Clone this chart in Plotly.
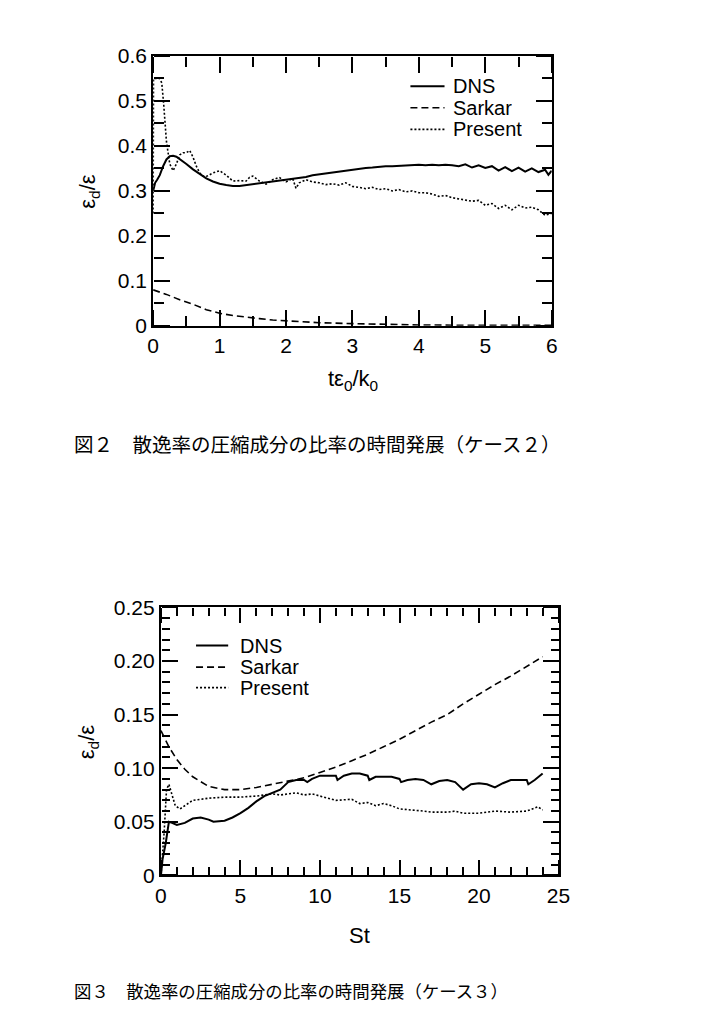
import plotly.graph_objects as go

# ---------------- Figure 2 (case 2) data ----------------
t_dns = [0, 0.03, 0.06, 0.1, 0.15, 0.2, 0.25, 0.3, 0.35, 0.4, 0.5, 0.6, 0.7, 0.8, 0.9,
         1.0, 1.1, 1.2, 1.3, 1.4, 1.5, 1.6, 1.7, 1.8, 1.9, 2.0, 2.1, 2.2, 2.3, 2.4, 2.5,
         2.6, 2.7, 2.8, 2.9, 3.0, 3.1, 3.2, 3.3, 3.4, 3.5, 3.6, 3.7, 3.8, 3.9, 4.0, 4.1,
         4.2, 4.3, 4.4, 4.5, 4.6, 4.7, 4.8, 4.9, 5.0, 5.1, 5.2, 5.3, 5.4, 5.5, 5.6, 5.7,
         5.8, 5.9, 5.95, 6.0]
dns2 = [0.300, 0.318, 0.325, 0.335, 0.355, 0.370, 0.377, 0.378, 0.376, 0.371, 0.360,
        0.348, 0.337, 0.328, 0.321, 0.316, 0.313, 0.311, 0.311, 0.313, 0.315, 0.317,
        0.318, 0.320, 0.322, 0.324, 0.326, 0.329, 0.331, 0.335, 0.337, 0.339, 0.341,
        0.343, 0.346, 0.348, 0.349, 0.351, 0.352, 0.354, 0.355, 0.355, 0.356, 0.357,
        0.357, 0.358, 0.357, 0.358, 0.357, 0.358, 0.357, 0.355, 0.359, 0.352, 0.357,
        0.351, 0.355, 0.345, 0.353, 0.344, 0.352, 0.343, 0.350, 0.342, 0.347, 0.336,
        0.345]

t_sarkar = [0, 0.2, 0.4, 0.6, 0.8, 1.0, 1.2, 1.4, 1.6, 1.8, 2.0, 2.5, 3.0, 3.5, 4.0, 5.0, 6.0]
sarkar2 = [0.080, 0.070, 0.058, 0.048, 0.036, 0.028, 0.023, 0.019, 0.016, 0.013, 0.011,
           0.007, 0.005, 0.003, 0.002, 0.001, 0.001]

t_present = [0, 0.005, 0.1, 0.13, 0.16, 0.2, 0.25, 0.3, 0.35, 0.4, 0.45, 0.5, 0.55, 0.6,
             0.65, 0.7, 0.75, 0.8, 0.9, 1.0, 1.1, 1.2, 1.3, 1.4, 1.45, 1.5, 1.6, 1.7,
             1.8, 1.9, 2.0, 2.1, 2.15, 2.2, 2.3, 2.4, 2.5, 2.6, 2.7, 2.8, 2.9, 3.0, 3.1,
             3.2, 3.3, 3.4, 3.5, 3.6, 3.7, 3.8, 3.9, 4.0, 4.1, 4.2, 4.3, 4.4, 4.5, 4.6,
             4.7, 4.8, 4.9, 5.0, 5.1, 5.2, 5.3, 5.4, 5.5, 5.6, 5.7, 5.8, 5.9, 6.0]
present2 = [0.25, 0.55, 0.55, 0.54, 0.49, 0.41, 0.36, 0.345, 0.36, 0.38, 0.385, 0.385,
            0.39, 0.375, 0.355, 0.34, 0.333, 0.332, 0.34, 0.345, 0.335, 0.322, 0.323,
            0.322, 0.33, 0.333, 0.322, 0.315, 0.325, 0.33, 0.32, 0.328, 0.306, 0.318,
            0.325, 0.32, 0.318, 0.314, 0.316, 0.313, 0.318, 0.31, 0.308, 0.305, 0.308,
            0.303, 0.305, 0.30, 0.303, 0.298, 0.30, 0.296, 0.296, 0.293, 0.288, 0.29,
            0.285, 0.282, 0.28, 0.277, 0.279, 0.268, 0.272, 0.261, 0.268, 0.258, 0.268,
            0.262, 0.264, 0.258, 0.246, 0.25]

# ---------------- Figure 3 (case 3) data ----------------
st_dns = [0, 0.1, 0.3, 0.5, 0.7, 1.0, 1.5, 2.0, 2.5, 3.0, 3.3, 4.0, 4.5, 5.0, 5.5, 6.0,
          6.5, 7.0, 7.5, 8.0, 8.5, 9.0, 9.2, 9.5, 10.0, 10.5, 11.0, 11.1, 11.5, 12.0,
          12.5, 13.0, 13.1, 13.5, 14.0, 14.5, 15.0, 15.1, 15.5, 16.0, 16.5, 17.0, 17.5,
          18.0, 18.5, 19.0, 19.5, 20.0, 20.5, 21.0, 21.5, 22.0, 22.5, 23.0, 23.1, 23.5,
          24.0]
dns3 = [0.0, 0.015, 0.03, 0.050, 0.049, 0.047, 0.049, 0.053, 0.054, 0.052, 0.050,
        0.051, 0.054, 0.058, 0.063, 0.069, 0.074, 0.077, 0.080, 0.087, 0.089, 0.089,
        0.087, 0.090, 0.093, 0.093, 0.093, 0.089, 0.093, 0.095, 0.095, 0.093, 0.089,
        0.092, 0.092, 0.092, 0.090, 0.087, 0.089, 0.090, 0.089, 0.085, 0.088, 0.089,
        0.087, 0.080, 0.085, 0.086, 0.085, 0.082, 0.086, 0.089, 0.089, 0.089, 0.085,
        0.089, 0.095]

st_sarkar = [0, 0.5, 1, 1.5, 2, 3, 4, 5, 6, 7, 8, 9, 10, 11, 12, 13, 14, 15, 16, 17, 18,
             19, 20, 21, 22, 23, 24]
sarkar3 = [0.135, 0.120, 0.108, 0.099, 0.092, 0.083, 0.080, 0.080, 0.082, 0.085, 0.088,
           0.091, 0.096, 0.101, 0.107, 0.113, 0.120, 0.127, 0.135, 0.143, 0.150, 0.160,
           0.169, 0.178, 0.186, 0.195, 0.204]

st_present = [0, 0.2, 0.35, 0.5, 0.7, 0.9, 1.2, 1.5, 2, 3, 4, 5, 6, 7, 7.5, 8.5, 9, 9.5,
              10.5, 11, 12, 12.5, 13, 13.5, 14, 14.5, 15, 16, 16.5, 17, 18, 18.5, 19, 20,
              21, 22, 23, 23.7, 24]
present3 = [0.0, 0.04, 0.08, 0.085, 0.075, 0.065, 0.062, 0.065, 0.070, 0.072, 0.073,
            0.073, 0.074, 0.076, 0.075, 0.077, 0.075, 0.076, 0.072, 0.070, 0.071, 0.067,
            0.068, 0.065, 0.067, 0.065, 0.062, 0.061, 0.060, 0.059, 0.059, 0.060, 0.058,
            0.058, 0.060, 0.059, 0.060, 0.064, 0.061]

y3_ticks = [0, 0.05, 0.10, 0.15, 0.20, 0.25]
y3_labels = ["0", "0.05", "0.10", "0.15", "0.20", "0.25"]

series_names = ["DNS", "Sarkar", "Present"]

FONT = "Liberation Sans, Arial, Helvetica, sans-serif"
CJK = "Noto Sans CJK JP"
SOLID = dict(color="black", width=2)
DASH = dict(color="black", width=1.6, dash="7px,4px")
DOT = dict(color="black", width=1.6, dash="2px,2px")
STYLES = [SOLID, DASH, DOT]

W, H = 706, 1034


def px_x(p):
    return p / W


def px_y(p):
    return 1 - p / H


fig = go.Figure()
for xs, ys, nm, st in zip([t_dns, t_sarkar, t_present], [dns2, sarkar2, present2],
                          series_names, STYLES):
    fig.add_trace(go.Scatter(x=xs, y=ys, mode="lines", line=st, name=nm,
                             xaxis="x", yaxis="y", showlegend=False))
for xs, ys, nm, st in zip([st_dns, st_sarkar, st_present], [dns3, sarkar3, present3],
                          series_names, STYLES):
    fig.add_trace(go.Scatter(x=xs, y=ys, mode="lines", line=st, name=nm,
                             xaxis="x2", yaxis="y2", showlegend=False))

dom_x1 = [px_x(151), px_x(560)]
dom_y1 = [px_y(321), px_y(45)]
dom_x2 = [px_x(159), px_x(567)]
dom_y2 = [px_y(883), px_y(609)]

base = dict(showline=True, linewidth=2, linecolor="black", showgrid=False,
            zeroline=False, ticks="", tickfont=dict(family=FONT, size=21, color="black"))

layout_axes = dict(
    xaxis=dict(domain=dom_x1, anchor="y", range=[0, 6], dtick=1, mirror=True, **base),
    yaxis=dict(domain=dom_y1, anchor="x", range=[0, 0.6], dtick=0.1, mirror=True,
               **base),
    xaxis2=dict(domain=dom_x2, anchor="y2", range=[0, 25], dtick=5, mirror=True, **base),
    yaxis2=dict(domain=dom_y2, anchor="x2", range=[0, 0.25], tickmode="array",
                tickvals=y3_ticks, ticktext=y3_labels, mirror=True, **base),
)

# Tick-only axes: each one sits on an edge of a panel, with its "outside" ticks
# pointing into the plotting area (inward ticks like the reference).
tick_specs = [
    # (kind, main axis, other main axis, range, dtick, length, position, side)
    ("x", "x", "y", [0, 6], 1, 16, dom_y1[0], "top"),
    ("x", "x", "y", [0, 6], 0.5, 10, dom_y1[0], "top"),
    ("x", "x", "y", [0, 6], 1, 16, dom_y1[1], "bottom"),
    ("x", "x", "y", [0, 6], 0.5, 10, dom_y1[1], "bottom"),
    ("y", "y", "x", [0, 0.6], 0.1, 16, dom_x1[0], "right"),
    ("y", "y", "x", [0, 0.6], 0.05, 10, dom_x1[0], "right"),
    ("y", "y", "x", [0, 0.6], 0.1, 16, dom_x1[1], "left"),
    ("y", "y", "x", [0, 0.6], 0.05, 10, dom_x1[1], "left"),
    ("x", "x2", "y2", [0, 25], 5, 15, dom_y2[0], "top"),
    ("x", "x2", "y2", [0, 25], 1, 8, dom_y2[0], "top"),
    ("x", "x2", "y2", [0, 25], 5, 15, dom_y2[1], "bottom"),
    ("x", "x2", "y2", [0, 25], 1, 8, dom_y2[1], "bottom"),
    ("y", "y2", "x2", [0, 0.25], 0.05, 16, dom_x2[0], "right"),
    ("y", "y2", "x2", [0, 0.25], 0.01, 8, dom_x2[0], "right"),
    ("y", "y2", "x2", [0, 0.25], 0.05, 16, dom_x2[1], "left"),
    ("y", "y2", "x2", [0, 0.25], 0.01, 8, dom_x2[1], "left"),
]
n = 3
for kind, main, other, rng, dt, ln, pos, side in tick_specs:
    ax_id = f"{kind}{n}"
    key = ("xaxis" if kind == "x" else "yaxis") + str(n)
    layout_axes[key] = dict(overlaying=main, anchor="free", position=pos, side=side,
                            range=rng, tickmode="linear", tick0=0, dtick=dt,
                            ticks="outside", ticklen=ln, tickwidth=2,
                            tickcolor="black", showticklabels=False, showline=False,
                            showgrid=False, zeroline=False)
    if kind == "x":
        fig.add_trace(go.Scatter(x=[], y=[], mode="lines", xaxis=ax_id, yaxis=other,
                                 showlegend=False, hoverinfo="skip"))
    else:
        fig.add_trace(go.Scatter(x=[], y=[], mode="lines", xaxis=other, yaxis=ax_id,
                                 showlegend=False, hoverinfo="skip"))
    n += 1

fig.update_layout(
    width=W, height=H, margin=dict(l=0, r=0, t=0, b=0),
    paper_bgcolor="white", plot_bgcolor="white",
    font=dict(family=FONT, color="black"),
    showlegend=False,
    **layout_axes,
)

annotations = [
    dict(text="tε<sub>0</sub>/k<sub>0</sub>", x=px_x(356), y=px_y(376)),
    dict(text="ε<sub>d</sub>/ε", x=px_x(85), y=px_y(184), textangle=-90),
    dict(text="St", x=px_x(363), y=px_y(945)),
    dict(text="ε<sub>d</sub>/ε", x=px_x(85), y=px_y(747), textangle=-90),
]
for a in annotations:
    a.update(xref="paper", yref="paper", xanchor="center", yanchor="middle",
             showarrow=False, font=dict(family=FONT, size=22, color="black"))

captions = [
    dict(text="図２　散逸率の圧縮成分の比率の時間発展（ケース２）", x=px_x(68),
         y=px_y(441), font=dict(family=CJK, size=19.5, color="black")),
    dict(text="図３　散逸率の圧縮成分の比率の時間発展（ケース３）", x=px_x(68),
         y=px_y(1001), font=dict(family=CJK, size=17.4, color="black")),
]
for c in captions:
    c.update(xref="paper", yref="paper", xanchor="left", yanchor="middle",
             showarrow=False)

# legend keys (decoration in paper coordinates)
legend_specs = [
    (415, 450, 457, [76, 98, 120]),
    (195, 228, 238, [648, 670, 691]),
]
shapes = []
leg_ann = []
for x0, x1, xt, rows in legend_specs:
    for nm, st, yy in zip(series_names, STYLES, rows):
        shapes.append(dict(type="line", xref="paper", yref="paper",
                           x0=px_x(x0), x1=px_x(x1), y0=px_y(yy), y1=px_y(yy),
                           opacity=1,
                           line=dict(color="black", width=st["width"],
                                     dash=st.get("dash", "solid"))))
        leg_ann.append(dict(text=nm, x=px_x(xt), y=px_y(yy), xref="paper",
                            yref="paper", xanchor="left", yanchor="middle",
                            showarrow=False, height=20,
                            font=dict(family=FONT, size=20, color="black")))

fig.update_layout(annotations=annotations + captions + leg_ann, shapes=shapes)

fig.write_html("out.html",
               post_script="document.body.style.margin='0px';"
                           "document.body.style.overflow='hidden';")
